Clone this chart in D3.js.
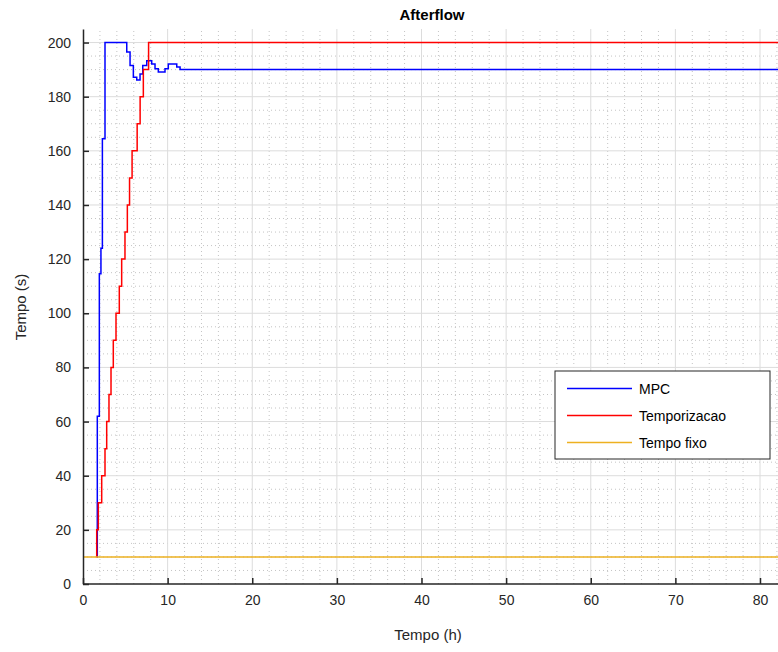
<!DOCTYPE html>
<html>
<head>
<meta charset="utf-8">
<script src="https://cdn.jsdelivr.net/npm/d3@7"></script>
<style>
  body { margin: 0; background: #fff; }
  svg { font-family: "Liberation Sans", Arial, sans-serif; }
</style>
</head>
<body>
<svg id="chart"></svg>
<script>
// size of the page and the plot box
let width = 778
let height = 652
let margin = {left: 83, right: 0, top: 29, bottom: 68}

// data (time in hours, value in seconds)
const mpcTimes  = [1.62, 1.69, 1.93, 2.12, 2.29, 2.6, 5.17, 5.56, 5.95, 6.35, 6.74, 7.06, 7.53, 8.12, 8.51, 8.9, 9.69, 10.08, 11.08, 11.47, 82.2]
const mpcValues = [10, 62, 114.6, 124, 164.5, 200, 196.5, 191.5, 187.2, 186.2, 188.4, 191.5, 193.3, 192.1, 190.3, 189.1, 190.3, 192.1, 191, 190, 190]

const tempTimes  = [1.6, 1.62, 1.81, 2.21, 2.6, 2.8, 3.07, 3.31, 3.58, 3.9, 4.29, 4.57, 4.96, 5.24, 5.5, 5.8, 6.4, 6.75, 7.13, 7.75, 82.2]
const tempValues = [10, 20, 30, 40, 50, 60, 70, 80, 90, 100, 110, 120, 130, 140, 150, 160, 170, 180, 190, 200, 200]

const fixedTimes  = [0, 82.2]
const fixedValues = [10, 10]

const seriesNames = ['MPC', 'Temporizacao', 'Tempo fixo']
const seriesColors = ['#0000ff', '#ff0000', '#edb120']

const xTicks = [0, 10, 20, 30, 40, 50, 60, 70, 80]
const yTicks = [0, 20, 40, 60, 80, 100, 120, 140, 160, 180, 200]

let xScale
let yScale

let svg = d3.select('#chart')

// 1. canvas
let drawCanvas = () => {
    svg.attr('width', width)
    svg.attr('height', height)
}

// 2. scales
let generateScales = () => {
    xScale = d3.scaleLinear()
               .domain([0, 82.2])
               .range([margin.left, margin.left + 82.2 * 8.4625])
    yScale = d3.scaleLinear()
               .domain([0, 205])
               .range([height - margin.bottom, margin.top])
}

// 3. grid lines, minor dotted, major solid
let drawGrid = () => {
    let x0 = xScale.range()[0], x1 = width
    let y0 = yScale.range()[0], y1 = yScale.range()[1]
    let g = svg.append('g').attr('id', 'grid')

    let xMinor = d3.range(0, 82.2, 2).filter(v => v % 10 !== 0)
    let yMinor = d3.range(0, 205, 5).filter(v => v % 20 !== 0)

    g.selectAll('.xminor').data(xMinor).enter().append('line')
        .attr('x1', d => xScale(d)).attr('x2', d => xScale(d))
        .attr('y1', y0).attr('y2', y1)
        .attr('stroke', '#c4c4c4').attr('stroke-width', 1)
        .attr('stroke-dasharray', '1,3')
    g.selectAll('.yminor').data(yMinor).enter().append('line')
        .attr('x1', x0).attr('x2', x1)
        .attr('y1', d => yScale(d)).attr('y2', d => yScale(d))
        .attr('stroke', '#c4c4c4').attr('stroke-width', 1)
        .attr('stroke-dasharray', '1,3')

    g.selectAll('.xmajor').data(xTicks.slice(1)).enter().append('line')
        .attr('x1', d => xScale(d)).attr('x2', d => xScale(d))
        .attr('y1', y0).attr('y2', y1)
        .attr('stroke', '#dcdcdc').attr('stroke-width', 1)
    g.selectAll('.ymajor').data(yTicks.slice(1)).enter().append('line')
        .attr('x1', x0).attr('x2', x1)
        .attr('y1', d => yScale(d)).attr('y2', d => yScale(d))
        .attr('stroke', '#dcdcdc').attr('stroke-width', 1)
}

// 4. lines
let drawLines = () => {
    svg.append('clipPath').attr('id', 'clip')
        .append('rect')
        .attr('x', xScale.range()[0]).attr('y', yScale.range()[1])
        .attr('width', width - xScale.range()[0])
        .attr('height', yScale.range()[0] - yScale.range()[1])

    let line = d3.line()
                 .x(d => xScale(d[0]))
                 .y(d => yScale(d[1]))
                 .curve(d3.curveStepAfter)

    let series = [
        d3.zip(mpcTimes, mpcValues),
        d3.zip(tempTimes, tempValues),
        d3.zip(fixedTimes, fixedValues)
    ]

    svg.append('g').attr('clip-path', 'url(#clip)')
        .selectAll('path').data(series).enter().append('path')
        .attr('d', d => line(d))
        .attr('fill', 'none')
        .attr('stroke', (d, i) => seriesColors[i])
        .attr('stroke-width', 1.5)
}

// 5. axes, ticks pointing inwards like matlab
let generateAxes = () => {
    let xAxis = d3.axisBottom(xScale).tickValues(xTicks).tickSizeInner(-6).tickSizeOuter(0).tickPadding(11)
    let yAxis = d3.axisLeft(yScale).tickValues(yTicks).tickSizeInner(-6).tickSizeOuter(0).tickPadding(12)

    let gx = svg.append('g')
        .attr('id', 'x-axis')
        .attr('transform', 'translate(0, ' + yScale.range()[0] + ')')
        .call(xAxis)
    let gy = svg.append('g')
        .attr('id', 'y-axis')
        .attr('transform', 'translate(' + xScale.range()[0] + ', 0)')
        .call(yAxis)

    gx.select('.domain').attr('d', 'M' + xScale.range()[0] + ',0H' + width)
    ;[gx, gy].forEach(g => {
        g.select('.domain').attr('stroke', '#262626').attr('stroke-width', 1.5)
        g.selectAll('.tick line').attr('stroke', '#262626').attr('stroke-width', 1.5)
        g.selectAll('.tick text').attr('fill', '#262626').style('font-size', '14px')
            .style('font-family', '"Liberation Sans", Arial, sans-serif')
    })

    svg.append('text')
        .attr('x', 428).attr('y', 640)
        .attr('text-anchor', 'middle')
        .attr('fill', '#262626')
        .style('font-size', '15px')
        .text('Tempo (h)')

    svg.append('text')
        .attr('transform', 'translate(26, 307) rotate(-90)')
        .attr('text-anchor', 'middle')
        .attr('fill', '#262626')
        .style('font-size', '15px')
        .text('Tempo (s)')

    svg.append('text')
        .attr('x', 432).attr('y', 20)
        .attr('text-anchor', 'middle')
        .attr('fill', '#000')
        .style('font-size', '15px')
        .style('font-weight', 'bold')
        .text('Afterflow')
}

// 6. legend
let drawLegend = () => {
    let lg = svg.append('g').attr('id', 'legend').attr('transform', 'translate(555, 371)')
    lg.append('rect')
        .attr('width', 215).attr('height', 88)
        .attr('fill', '#fff').attr('stroke', '#262626').attr('stroke-width', 1)

    let rows = lg.selectAll('.row').data(seriesNames).enter().append('g')
        .attr('transform', (d, i) => 'translate(0,' + (17.5 + i * 27) + ')')
    rows.append('line')
        .attr('x1', 12).attr('x2', 77)
        .attr('stroke', (d, i) => seriesColors[i]).attr('stroke-width', 1.5)
    rows.append('text')
        .attr('x', 84).attr('y', 5)
        .attr('fill', '#000')
        .style('font-size', '14px')
        .text(d => d)
}

// MAIN BODY
drawCanvas()
generateScales()
drawGrid()
drawLines()
generateAxes()
drawLegend()
</script>
</body>
</html>
